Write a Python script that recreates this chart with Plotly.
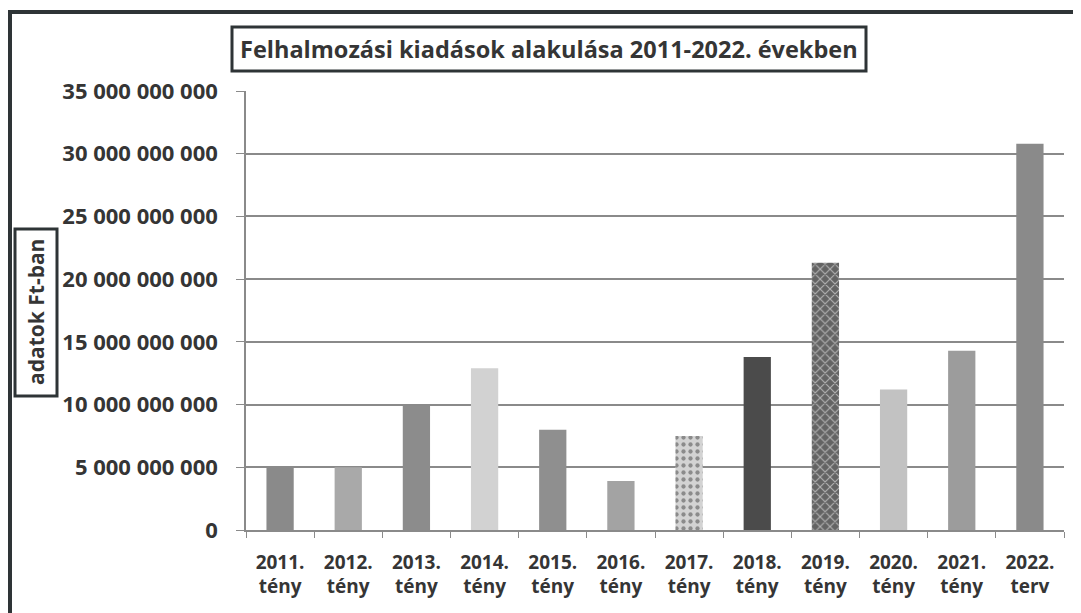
import plotly.graph_objects as go

categories = ["2011.<br>tény", "2012.<br>tény", "2013.<br>tény", "2014.<br>tény",
              "2015.<br>tény", "2016.<br>tény", "2017.<br>tény", "2018.<br>tény",
              "2019.<br>tény", "2020.<br>tény", "2021.<br>tény", "2022.<br>terv"]
values = [5.0e9, 5.0e9, 9.9e9, 12.9e9, 8.0e9, 3.9e9, 7.5e9, 13.8e9, 21.3e9, 11.2e9, 14.3e9, 30.8e9]
bar_colors = ["#8a8a8a", "#a9a9a9", "#8c8c8c", "#d2d2d2", "#8f8f8f", "#a3a3a3",
              "#d3d3d3", "#4b4b4b", "#636363", "#c2c2c2", "#9c9c9c", "#8a8a8a"]
pattern_shapes = ["", "", "", "", "", "", ".", "", "x", "", "", ""]
pattern_fg = ["#8a8a8a", "#a9a9a9", "#8c8c8c", "#d2d2d2", "#8f8f8f", "#a3a3a3",
              "#bcbcbc", "#4b4b4b", "#3a3a3a", "#c2c2c2", "#9c9c9c", "#8a8a8a"]
y_tickvals = [0, 5e9, 10e9, 15e9, 20e9, 25e9, 30e9, 35e9]
y_ticktext = ["0", "5 000 000 000", "10 000 000 000", "15 000 000 000", "20 000 000 000",
              "25 000 000 000", "30 000 000 000", "35 000 000 000"]
title_text = "Felhalmozási kiadások alakulása 2011-2022. években"
y_title = "adatok Ft-ban"

FONT = "Open Sans"
TXT = "#353535"

fig = go.Figure(go.Bar(
    x=categories, y=values,
    marker=dict(color=bar_colors, line=dict(width=0),
                pattern=dict(shape=pattern_shapes, fgcolor=pattern_fg, size=7, solidity=0.3)),
    width=0.4,
))

OFF = 8  # page body margin
W, H = 1081 - OFF, 613 - OFF
L, R, T, B = 246 - OFF, 17, 91 - OFF, 83
pw, ph = W - L - R, H - T - B


def px(x):
    return (x - OFF - L) / pw


def py(y):
    return (H - B - (y - OFF)) / ph


shapes = [
    dict(type="line", xref="paper", yref="paper", x0=px(4), x1=px(1081), y0=py(12), y1=py(12),
         line=dict(color="#2e3436", width=4)),
    dict(type="line", xref="paper", yref="paper", x0=px(10), x1=px(10), y0=py(12), y1=py(613),
         line=dict(color="#2e3436", width=4)),
    dict(type="rect", xref="paper", yref="paper", x0=px(232), x1=px(866), y0=py(71), y1=py(27),
         line=dict(color="#2e3436", width=3), fillcolor="white"),
    dict(type="rect", xref="paper", yref="paper", x0=px(15), x1=px(57), y0=py(396), y1=py(229),
         line=dict(color="#2e3436", width=3), fillcolor="white"),
]

annotations = [
    dict(text=title_text, xref="paper", yref="paper", x=px(549), y=py(49), showarrow=False,
         xanchor="center", yanchor="middle",
         font=dict(family=FONT, size=23.5, color=TXT, weight="bold")),
    dict(text=y_title, xref="paper", yref="paper", x=px(36), y=py(312), showarrow=False,
         xanchor="center", yanchor="middle", textangle=-90,
         font=dict(family=FONT, size=21, color=TXT, weight="bold")),
]

fig.update_layout(
    width=W, height=H,
    margin=dict(l=L, r=R, t=T, b=B),
    paper_bgcolor="white", plot_bgcolor="white",
    showlegend=False,
    shapes=shapes, annotations=annotations,
    xaxis=dict(
        tickfont=dict(family=FONT, size=19, color=TXT, weight="bold"),
        showline=True, linecolor="#8a8a8a", linewidth=1.5,
        ticks="outside", tickson="boundaries", ticklen=6, tickcolor="#8a8a8a",
        showgrid=False, ticklabelstandoff=14,
    ),
    yaxis=dict(
        range=[0, 35e9], tickvals=y_tickvals, ticktext=y_ticktext,
        tickfont=dict(family=FONT, size=22, color=TXT, weight="bold"),
        showline=True, linecolor="#8a8a8a", linewidth=1.5,
        ticks="outside", ticklen=8, tickcolor="#8a8a8a",
        showgrid=True, gridcolor="#8a8a8a", gridwidth=1.5,
        zeroline=False, ticklabelstandoff=14,
    ),
    bargap=0.6,
)

fig.write_html("out.html")
